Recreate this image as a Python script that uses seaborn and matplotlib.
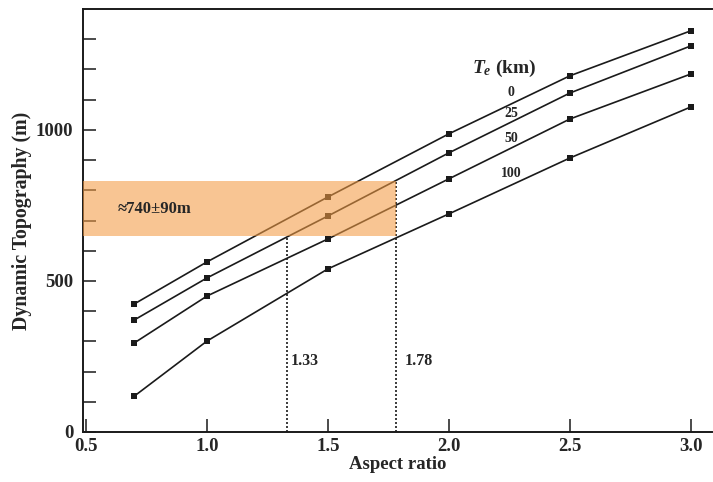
import matplotlib
matplotlib.use("Agg")
import matplotlib.pyplot as plt
import seaborn as sns
import pandas as pd
import numpy as np

# ---- data ----
aspect = [0.7, 1.0, 1.5, 2.0, 2.5, 3.0]
te_labels = ["0", "25", "50", "100"]
topo_te0 = [424, 563, 778, 987, 1179, 1328]
topo_te25 = [371, 510, 715, 924, 1122, 1278]
topo_te50 = [295, 450, 639, 838, 1036, 1185]
topo_te100 = [119, 301, 540, 722, 907, 1076]
band_low, band_high = 650, 830
cut_low, cut_high = 1.33, 1.78
xtick_vals = [0.5, 1.0, 1.5, 2.0, 2.5, 3.0]
ytick_vals = list(range(0, 1400, 100))
ytick_labeled = {0: "0", 500: "500", 1000: "1000"}

rows = []
for te, vals in zip(te_labels, [topo_te0, topo_te25, topo_te50, topo_te100]):
    for a, v in zip(aspect, vals):
        rows.append({"Aspect ratio": a, "Topo": v, "Te": te})
df = pd.DataFrame(rows)

sns.set_style("ticks")
plt.rcParams["font.family"] = ["Liberation Serif", "DejaVu Serif"]
plt.rcParams["font.weight"] = "bold"
plt.rcParams["mathtext.fontset"] = "custom"
plt.rcParams["mathtext.it"] = "Liberation Serif:italic:bold"
plt.rcParams["mathtext.rm"] = "Liberation Serif:bold"

fig = plt.figure(figsize=(7.13, 4.82), dpi=100)
ax = fig.add_axes([83/713, 1-432/482, (712-83)/713, (432-9)/482])

sns.lineplot(data=df, x="Aspect ratio", y="Topo", hue="Te", style="Te",
             palette={t: "#1a1a1a" for t in te_labels},
             markers={t: "s" for t in te_labels}, dashes=False,
             markersize=4.0, linewidth=1.2, legend=False, ax=ax,
             markeredgewidth=0, zorder=2)

# band
ax.fill_between([0.4, cut_high], band_low, band_high, color="#F39C45",
                alpha=0.58, linewidth=0, zorder=3)
ax.plot([cut_low, cut_low], [0, band_low], ls=(0, (1.2, 1.2)), color="#1a1a1a", lw=1.2, zorder=1)
ax.plot([cut_high, cut_high], [0, band_high], ls=(0, (1.2, 1.2)), color="#1a1a1a", lw=1.2, zorder=1)

ax.set_xlim(0.4876, 3.087)
ax.set_ylim(0, 1400)
ax.set_xticks(xtick_vals)
ax.set_xticklabels([f"{v:.1f}" for v in xtick_vals])
ax.set_yticks(ytick_vals)
ax.set_yticklabels([ytick_labeled.get(v, "") for v in ytick_vals])
ax.tick_params(direction="in", length=9.5, width=1.1, color="#1a1a1a",
               labelsize=13.5, pad=4)
ax.tick_params(axis="y", pad=7)
for lab in ax.get_xticklabels() + ax.get_yticklabels():
    lab.set_fontweight("bold")

for s in ["left", "bottom", "top"]:
    ax.spines[s].set_linewidth(1.4)
    ax.spines[s].set_color("#1a1a1a")
ax.spines["right"].set_visible(False)

ax.set_xlabel("Aspect ratio", fontsize=13.5, fontweight="bold", labelpad=1)
ax.set_ylabel("Dynamic Topography (m)", fontsize=14.3, fontweight="bold")
ax.yaxis.set_label_coords(-0.081, 0.5)

ax.text(2.23, 1202, r"$T_e$ (km)", fontsize=14, ha="center", va="center", fontweight="bold")
for lab, yy in zip(te_labels, [1122, 1053, 970, 854]):
    ax.text(2.257, yy, lab, fontsize=10, ha="center", va="center", fontweight="bold")
ax.text(0.785, 738, "≈740±90m", fontsize=12, ha="center", va="center", fontweight="bold")
ax.text(1.345, 235, "1.33", fontsize=11.5, ha="left", va="center", fontweight="bold")
ax.text(1.815, 235, "1.78", fontsize=11.5, ha="left", va="center", fontweight="bold")

fig.savefig("out.png", dpi=100)
